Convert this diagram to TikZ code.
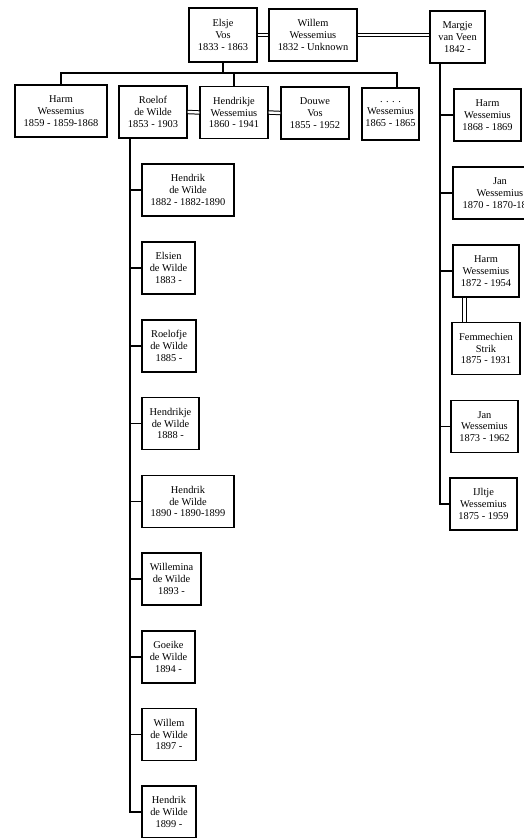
\documentclass[tikz,border=0pt]{standalone}
\usepackage{fontspec}
\setmainfont{Liberation Serif}
\begin{document}
\begin{tikzpicture}[x=1pt,y=-1pt,
  person/.style={draw, line width=1.2pt, align=center, inner sep=0pt,
    font=\fontsize{10.4}{11.8}\selectfont, minimum height=52pt},
  conn/.style={line width=1.3pt},
  dbl/.style={double, double distance=2.4pt, line width=1pt}]
\useasboundingbox (0,0) rectangle (523,838);
% top generation
\node[person, minimum width=68pt, minimum height=54pt] (elsje) at (223,35) {Elsje\\Vos\\1833 - 1863};
\node[person, minimum width=88pt] (willem) at (313,35) {Willem\\Wessemius\\1832 - Unknown};
\node[person, minimum width=55pt] (margje) at (457.5,37) {Margje\\van Veen\\1842 -};
% second row
\node[person, minimum width=92pt] (harmA) at (61,111) {Harm\\Wessemius\\1859 - 1859-1868};
\node[person, minimum width=68pt] (roelof) at (153,112) {Roelof\\de Wilde\\1853 - 1903};
\node[person, minimum width=68pt] (hendrikje) at (234,112.5) {Hendrikje\\Wessemius\\1860 - 1941};
\node[person, minimum width=68pt] (douwe) at (315,113) {Douwe\\Vos\\1855 - 1952};
\node[person, minimum width=57pt] (dots) at (390.5,114) {. . . .\\Wessemius\\1865 - 1865};
% Margje's children
\node[person, minimum width=67pt] (harmB) at (487.5,115) {Harm\\Wessemius\\1868 - 1869};
\node[person, minimum width=94pt] (janA) at (500,193) {Jan\\Wessemius\\1870 - 1870-18\phantom{00}};
\node[person, minimum width=66pt] (harmC) at (486,271) {Harm\\Wessemius\\1872 - 1954};
\node[person, minimum width=68pt] (femm) at (486,348.5) {Femmechien\\Strik\\1875 - 1931};
\node[person, minimum width=67pt] (janB) at (484.5,426.5) {Jan\\Wessemius\\1873 - 1962};
\node[person, minimum width=67pt] (iltje) at (483.5,504) {IJltje\\Wessemius\\1875 - 1959};
% Roelof & Hendrikje's children
\node[person, minimum width=92pt] (hdA) at (188,190) {Hendrik\\de Wilde\\1882 - 1882-1890};
\node[person, minimum width=53pt] (elsien) at (168.5,268) {Elsien\\de Wilde\\1883 -};
\node[person, minimum width=54pt] (roelofje) at (169,346) {Roelofje\\de Wilde\\1885 -};
\node[person, minimum width=57pt] (hdje) at (170.5,423.5) {Hendrikje\\de Wilde\\1888 -};
\node[person, minimum width=92pt] (hdB) at (188,501.5) {Hendrik\\de Wilde\\1890 - 1890-1899};
\node[person, minimum width=59pt] (willemina) at (171.5,579) {Willemina\\de Wilde\\1893 -};
\node[person, minimum width=53pt] (goeike) at (168.5,657) {Goeike\\de Wilde\\1894 -};
\node[person, minimum width=54pt] (willemB) at (169,734.5) {Willem\\de Wilde\\1897 -};
\node[person, minimum width=54pt] (hdC) at (169,812) {Hendrik\\de Wilde\\1899 -};
% marriages
\draw[dbl] (elsje.east) -- (willem.west);
\draw[dbl] (willem.east) -- (margje.west |- willem.east);
\draw[dbl] (roelof.east) -- (hendrikje.west);
\draw[dbl] (hendrikje.east) -- (douwe.west);
\draw[dbl] ([xshift=-21.5pt]harmC.south) -- ([xshift=-21.5pt]harmC.south |- femm.north);
% Elsje's children
\draw[conn] (harmA.north) -- (harmA.north |- 0,73) -- ([xshift=6.5pt]dots.north |- 0,73) -- ([xshift=6.5pt]dots.north);
\draw[conn] (elsje.south) -- (elsje.south |- 0,73);
\draw[conn] (hendrikje.north) -- (hendrikje.north |- 0,73);
% Margje's children
\coordinate (mv) at ([xshift=-17.5pt]margje.south);
\draw[conn] (mv) |- (iltje.west);
\foreach \c in {harmB,janA,harmC,janB} \draw[conn] (mv |- \c.west) -- (\c.west);
% Roelof's children
\coordinate (rv) at ([xshift=-23pt]roelof.south);
\draw[conn] (rv) |- (hdC.west);
\foreach \c in {hdA,elsien,roelofje,hdje,hdB,willemina,goeike,willemB} \draw[conn] (rv |- \c.west) -- (\c.west);
\end{tikzpicture}
\end{document}
